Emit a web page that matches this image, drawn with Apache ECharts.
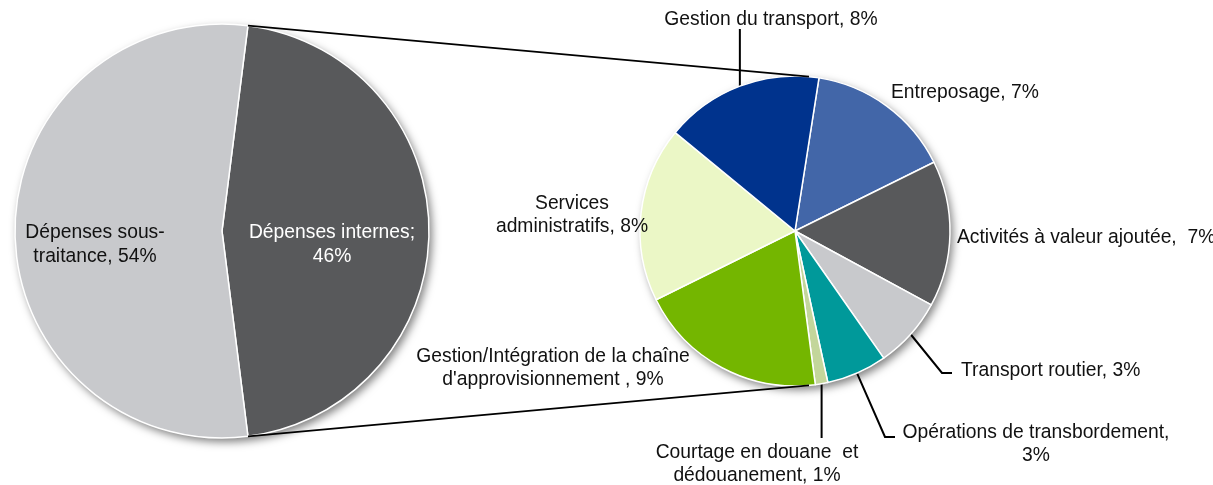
<!DOCTYPE html>
<html>
<head>
<meta charset="utf-8">
<script src="https://cdn.jsdelivr.net/npm/echarts@6/dist/echarts.min.js"></script>
<style>
  html, body { margin: 0; padding: 0; background: #fff; }
  #chart { width: 1213px; height: 485px; }
</style>
</head>
<body>
<div id="chart"></div>
<script>
// répartition globale (%)
const mainNames = ['Dépenses internes', 'Dépenses sous-traitance']
const mainValues = [46, 54]
const mainLabels = ['Dépenses internes;\n', 'Dépenses sous-\ntraitance, ']

// détail des dépenses internes (% du total)
const detailNames = [
  'Entreposage',
  'Activités à valeur ajoutée',
  'Transport routier',
  'Opérations de transbordement',
  'Courtage en douane et dédouanement',
  "Gestion/Intégration de la chaîne d'approvisionnement",
  'Services administratifs',
  'Gestion du transport'
]
const detailValues = [7.0, 7.0, 3.4, 2.9, 0.6, 9.1, 8.4, 7.6]
const detailLabels = [
  'Entreposage, ',
  'Activités à valeur ajoutée,  ',
  'Transport routier, ',
  'Opérations de transbordement,\n',
  'Courtage en douane  et\ndédouanement, ',
  "Gestion/Intégration de la chaîne\nd'approvisionnement , ",
  'Services\nadministratifs, ',
  'Gestion du transport, '
]

const mainColors = ['#58595b', '#c8c9cc']
const detailColors = ['#4266a8', '#58595b', '#c8c9cc', '#00999a', '#c3d69b', '#74b600', '#ebf7c6', '#00338d']

const FONT = "'Liberation Sans', Arial, sans-serif"
const FONT_SIZE = 19.3
const leftPie = { cx: 222, cy: 231, r: 207 }
const rightPie = { cx: 795, cy: 231, r: 155 }

// label anchors; line = leader points after the slice edge (null x = straight down/up)
const mainLabelPos = [
  { x: 332, y: 245 },
  { x: 95, y: 245 }
]
const detailLabelPos = [
  { x: 891, y: 93, align: 'left' },
  { x: 957, y: 238, align: 'left' },
  { x: 961, y: 371, align: 'left', line: [[942, 373], [952, 373]] },
  { x: 1036, y: 444, line: [[885, 437], [895, 437]] },
  { x: 757, y: 464, line: [[null, 420], [null, 438]] },
  { x: 553, y: 368 },
  { x: 572, y: 215 },
  { x: 771, y: 20, line: [[null, 50], [null, 29]] }
]

function placeLabels(pos) {
  return function (params) {
    const p = pos[params.dataIndex]
    const out = { x: p.x, y: p.y, align: p.align || 'center', verticalAlign: 'middle' }
    if (p.line && params.labelLinePoints) {
      const start = params.labelLinePoints[0]
      out.labelLinePoints = [start].concat(p.line.map(function (pt) {
        return [pt[0] == null ? start[0] : pt[0], pt[1]]
      }))
    }
    return out
  }
}

// connector lines: from the edges of the "internes" slice, tangent to the second pie
const half = mainValues[0] / (mainValues[0] + mainValues[1]) * Math.PI
const topPt = [leftPie.cx + leftPie.r * Math.cos(half), leftPie.cy - leftPie.r * Math.sin(half)]
const botPt = [leftPie.cx + leftPie.r * Math.cos(half), leftPie.cy + leftPie.r * Math.sin(half)]

function tangent(pt, c, upper) {
  const dx = pt[0] - c.cx, dy = pt[1] - c.cy
  const d = Math.hypot(dx, dy)
  const base = Math.atan2(dy, dx)
  const off = Math.acos(c.r / d)
  const a = [c.cx + c.r * Math.cos(base + off), c.cy + c.r * Math.sin(base + off)]
  const b = [c.cx + c.r * Math.cos(base - off), c.cy + c.r * Math.sin(base - off)]
  if (upper) return a[1] < b[1] ? a : b
  return a[1] > b[1] ? a : b
}
const topEnd = tangent(topPt, rightPie, true)
const botEnd = tangent(botPt, rightPie, false)

const shadow = function (c) {
  return {
    type: 'circle', z: 0, silent: true,
    shape: { cx: c.cx, cy: c.cy, r: c.r },
    style: { fill: '#fff', shadowBlur: 8, shadowColor: 'rgba(0,0,0,0.5)', shadowOffsetX: 3, shadowOffsetY: 4 }
  }
}

const chart = echarts.init(document.getElementById('chart'))
chart.setOption({
  animation: false,
  textStyle: { fontFamily: FONT },
  graphic: [
    shadow(leftPie),
    shadow(rightPie),
    { type: 'line', z: 10, silent: true, shape: { x1: topPt[0], y1: topPt[1], x2: topEnd[0], y2: topEnd[1] }, style: { stroke: '#000', lineWidth: 1.6 } },
    { type: 'line', z: 10, silent: true, shape: { x1: botPt[0], y1: botPt[1], x2: botEnd[0], y2: botEnd[1] }, style: { stroke: '#000', lineWidth: 1.6 } }
  ],
  series: [
    {
      type: 'pie',
      center: [leftPie.cx, leftPie.cy],
      radius: leftPie.r,
      startAngle: half * 180 / Math.PI,
      clockwise: true,
      avoidLabelOverlap: false,
      silent: true,
      itemStyle: { borderColor: '#fff', borderWidth: 1.5 },
      label: {
        position: 'inside',
        fontFamily: FONT,
        fontSize: FONT_SIZE,
        lineHeight: 24,
        formatter: function (p) { return mainLabels[p.dataIndex] + p.value + '%' }
      },
      labelLayout: placeLabels(mainLabelPos),
      data: mainNames.map(function (n, i) {
        return {
          name: n, value: mainValues[i],
          itemStyle: { color: mainColors[i] },
          label: { color: i === 0 ? '#fff' : '#111' }
        }
      })
    },
    {
      type: 'pie',
      center: [rightPie.cx, rightPie.cy],
      radius: rightPie.r,
      startAngle: 81.1,
      clockwise: true,
      avoidLabelOverlap: false,
      minShowLabelAngle: 0,
      silent: true,
      itemStyle: { borderColor: '#fff', borderWidth: 1.5 },
      label: {
        position: 'outside',
        color: '#111',
        fontFamily: FONT,
        fontSize: FONT_SIZE,
        lineHeight: 23,
        formatter: function (p) { return detailLabels[p.dataIndex] + Math.round(p.value) + '%' }
      },
      labelLine: { show: true, length: 10, length2: 10, lineStyle: { color: '#000', width: 2 } },
      labelLayout: placeLabels(detailLabelPos),
      data: detailNames.map(function (n, i) {
        return {
          name: n, value: detailValues[i],
          itemStyle: { color: detailColors[i] },
          labelLine: { show: !!detailLabelPos[i].line }
        }
      })
    }
  ]
})
</script>
</body>
</html>
